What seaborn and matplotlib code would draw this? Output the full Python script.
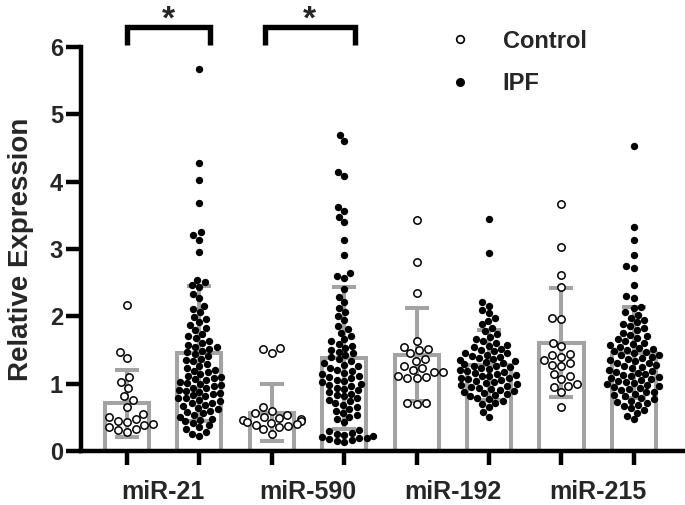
import numpy as np
import pandas as pd
import matplotlib
matplotlib.use("Agg")
import matplotlib.pyplot as plt
from matplotlib.lines import Line2D
import seaborn as sns

# ---------------- data ----------------
groups = ["miR-21", "miR-590", "miR-192", "miR-215"]
conditions = ["Control", "IPF"]

# bar heights (mean) and SD error bars, order: group x condition
bar_means = [0.71, 1.45, 0.57, 1.38, 1.43, 1.28, 1.61, 1.46]
bar_sds = [0.50, 1.00, 0.42, 1.05, 0.69, 0.52, 0.81, 0.68]

mir21_control = [2.17, 1.47, 1.38, 1.10, 1.02, 0.93, 0.81, 0.76, 0.66, 0.55,
                 0.50, 0.47, 0.45, 0.43, 0.40, 0.38, 0.36, 0.33, 0.31, 0.28]
mir21_ipf = [5.68, 4.28, 4.02, 3.68, 3.25, 3.21, 3.14, 2.96, 2.54, 2.51, 2.46, 2.43,
             2.33, 2.27, 2.15, 2.11, 2.06, 1.99, 1.96, 1.91, 1.87, 1.83, 1.79, 1.74,
             1.71, 1.68, 1.63, 1.61, 1.58, 1.55, 1.54, 1.52, 1.49, 1.47, 1.44, 1.41,
             1.37, 1.35, 1.33, 1.29, 1.26, 1.24, 1.21, 1.19, 1.17, 1.14, 1.12, 1.10,
             1.08, 1.07, 1.05, 1.03, 1.01, 0.99, 0.98, 0.96, 0.94, 0.93, 0.91, 0.89,
             0.88, 0.86, 0.85, 0.83, 0.81, 0.79, 0.78, 0.76, 0.74, 0.72, 0.71, 0.69,
             0.67, 0.64, 0.62, 0.60, 0.58, 0.56, 0.53, 0.51, 0.48, 0.46, 0.44, 0.41,
             0.38, 0.35, 0.32, 0.28, 0.25, 0.22]
mir590_control = [1.53, 1.51, 1.46, 0.65, 0.59, 0.56, 0.53, 0.51, 0.49, 0.47,
                  0.46, 0.45, 0.43, 0.42, 0.40, 0.39, 0.37, 0.35, 0.32, 0.26]
mir590_ipf = [4.70, 4.61, 4.15, 4.09, 3.63, 3.57, 3.48, 3.40, 3.14, 2.91, 2.64, 2.60,
              2.57, 2.41, 2.29, 2.21, 2.12, 2.06, 2.01, 1.94, 1.86, 1.81, 1.76, 1.71,
              1.66, 1.63, 1.59, 1.56, 1.53, 1.50, 1.47, 1.45, 1.42, 1.39, 1.36, 1.34,
              1.31, 1.28, 1.26, 1.23, 1.21, 1.19, 1.16, 1.14, 1.12, 1.10, 1.08, 1.06,
              1.04, 1.02, 1.00, 0.98, 0.96, 0.94, 0.92, 0.90, 0.87, 0.85, 0.83, 0.81,
              0.78, 0.76, 0.74, 0.71, 0.69, 0.66, 0.63, 0.60, 0.57, 0.54, 0.51, 0.47,
              0.43, 0.31, 0.29, 0.27, 0.26, 0.24, 0.23, 0.21, 0.20, 0.19, 0.18, 0.16,
              0.15, 0.13]
mir192_control = [3.43, 2.80, 2.34, 1.64, 1.54, 1.52, 1.50, 1.45, 1.37, 1.34, 1.26,
                  1.24, 1.20, 1.18, 1.17, 1.12, 1.10, 1.09, 1.08, 0.72, 0.71, 0.70]
mir192_ipf = [3.44, 2.94, 2.21, 2.16, 2.10, 2.05, 1.98, 1.93, 1.88, 1.83, 1.78, 1.74,
              1.70, 1.67, 1.64, 1.61, 1.58, 1.56, 1.54, 1.52, 1.50, 1.48, 1.46, 1.45,
              1.43, 1.41, 1.40, 1.38, 1.36, 1.35, 1.33, 1.32, 1.30, 1.29, 1.27, 1.26,
              1.25, 1.23, 1.22, 1.20, 1.19, 1.18, 1.16, 1.15, 1.13, 1.12, 1.11, 1.09,
              1.08, 1.07, 1.05, 1.04, 1.02, 1.01, 0.99, 0.98, 0.97, 0.95, 0.94, 0.92,
              0.91, 0.89, 0.88, 0.86, 0.84, 0.83, 0.81, 0.79, 0.77, 0.75, 0.72, 0.70,
              0.66, 0.58, 0.51]
mir215_control = [3.67, 3.03, 2.62, 2.43, 1.98, 1.96, 1.60, 1.56, 1.44, 1.42, 1.40,
                  1.35, 1.30, 1.28, 1.26, 1.15, 1.12, 1.07, 0.99, 0.97, 0.95, 0.88, 0.66]
mir215_ipf = [4.53, 3.33, 3.13, 2.91, 2.75, 2.72, 2.46, 2.30, 2.27, 2.14, 2.12, 2.06,
              2.02, 1.98, 1.95, 1.91, 1.88, 1.85, 1.82, 1.79, 1.76, 1.73, 1.71, 1.68,
              1.66, 1.63, 1.61, 1.59, 1.57, 1.55, 1.53, 1.52, 1.50, 1.48, 1.47, 1.45,
              1.43, 1.42, 1.40, 1.38, 1.37, 1.35, 1.33, 1.31, 1.30, 1.28, 1.26, 1.25,
              1.23, 1.21, 1.19, 1.18, 1.16, 1.14, 1.13, 1.11, 1.10, 1.08, 1.07, 1.05,
              1.04, 1.02, 1.01, 0.99, 0.98, 0.96, 0.95, 0.93, 0.92, 0.90, 0.88, 0.87,
              0.85, 0.83, 0.81, 0.79, 0.77, 0.75, 0.73, 0.71, 0.69, 0.67, 0.64, 0.61,
              0.57, 0.52, 0.47]

y_ticks = [0, 1, 2, 3, 4, 5, 6]
sig_pairs = [(0.0, 1.15), (1.9, 3.15)]   # significance brackets (category units)
sig_labels = ["*", "*"]

# ---------------- build tables ----------------
positions = [f"{g} {c}" for g in groups for c in conditions]
series = {
    "miR-21 Control": mir21_control, "miR-21 IPF": mir21_ipf,
    "miR-590 Control": mir590_control, "miR-590 IPF": mir590_ipf,
    "miR-192 Control": mir192_control, "miR-192 IPF": mir192_ipf,
    "miR-215 Control": mir215_control, "miR-215 IPF": mir215_ipf,
}
rows = []
for pos, vals in series.items():
    cond = pos.split(" ")[1]
    for v in vals:
        rows.append({"pos": pos, "condition": cond, "value": v})
df = pd.DataFrame(rows)
bars = pd.DataFrame({"pos": positions, "mean": bar_means, "sd": bar_sds})

# ---------------- plot ----------------
sns.set_style("ticks")
plt.rcParams["font.family"] = ["Liberation Sans", "DejaVu Sans"]
plt.rcParams["font.weight"] = "bold"

GRAY = "#a3a3a3"
fig = plt.figure(figsize=(6.85, 5.05), dpi=100)
ax = fig.add_axes([0.1182, 0.1069, 0.879, 0.80])

sns.barplot(data=bars, x="pos", y="mean", order=positions, width=0.61,
            color="white", saturation=1, edgecolor=GRAY, linewidth=2.9,
            errorbar=None, ax=ax, zorder=1)
ax.errorbar(np.arange(len(positions)), bars["mean"], yerr=bars["sd"], fmt="none",
            ecolor=GRAY, elinewidth=2.9, capsize=8.5, capthick=2.9, zorder=2)

sns.swarmplot(data=df[df.condition == "Control"], x="pos", y="value", order=positions,
              color="white", edgecolor="black", linewidth=1.1, size=5.3,
              ax=ax, zorder=3)
sns.swarmplot(data=df[df.condition == "IPF"], x="pos", y="value", order=positions,
              color="black", size=5.3, ax=ax, zorder=3)

ax.set_ylim(0, 6)
ax.set_xlim(-0.635, 7.68)
ax.set_yticks(y_ticks)
ax.set_yticklabels([str(t) for t in y_ticks], fontsize=17, fontweight="bold")
ax.set_xticks(np.arange(len(positions)))
ax.set_xticklabels([""] * len(positions))
ax.set_xticks([0.5, 2.5, 4.5, 6.5], minor=True)
ax.set_xticklabels(groups, minor=True, fontsize=18, fontweight="bold")
ax.tick_params(axis="x", which="major", length=10, width=3.2, color="black")
ax.tick_params(axis="x", which="minor", length=0, pad=21)
ax.tick_params(axis="y", which="major", length=11, width=3.2, pad=2, color="black")
ax.set_xlabel("")
ax.set_ylabel("Relative Expression", fontsize=20, fontweight="bold", labelpad=11)

for side in ["top", "right"]:
    ax.spines[side].set_visible(False)
for side in ["left", "bottom"]:
    ax.spines[side].set_linewidth(3.2)
    ax.spines[side].set_color("black")

for (x0, x1), lab in zip(sig_pairs, sig_labels):
    ax.plot([x0, x0, x1, x1], [6.03, 6.30, 6.30, 6.03], color="black", lw=3.9,
            clip_on=False, solid_capstyle="butt", solid_joinstyle="miter")
    ax.text((x0 + x1) / 2, 6.63, lab, ha="center", va="top", fontsize=24,
            fontweight="bold", clip_on=False)

handles = [Line2D([], [], marker="o", ls="", mfc="white", mec="black", mew=1.2, ms=5.5),
           Line2D([], [], marker="o", ls="", mfc="black", mec="black", ms=5.5)]
ax.legend(handles, conditions, loc="upper left", bbox_to_anchor=(0.61, 1.043),
          frameon=False, prop={"size": 17, "weight": "bold"}, handlelength=1.0,
          handletextpad=1.3, labelspacing=0.82, borderpad=0, borderaxespad=0)

fig.savefig("out.png", dpi=100)
